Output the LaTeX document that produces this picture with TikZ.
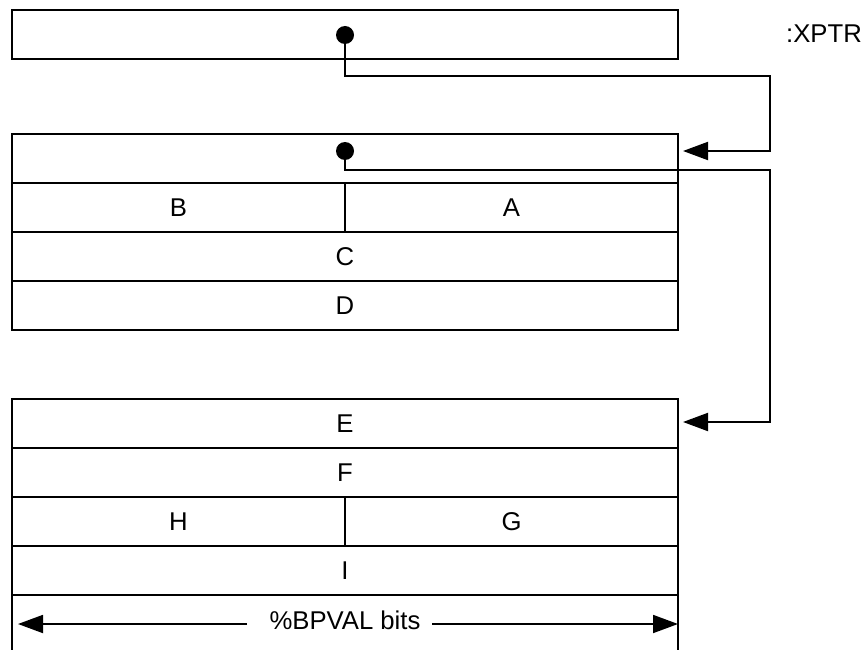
\documentclass[tikz,border=0pt]{standalone}
\usepackage{fontspec}
\setmainfont{Liberation Sans}
\usetikzlibrary{arrows.meta}
\pgfdeclarelayer{nodelayer}
\pgfdeclarelayer{edgelayer}
\pgfsetlayers{edgelayer,nodelayer,main}
\tikzstyle{full row}=[fill=none, draw=black, shape=rectangle, line width=2pt, minimum width=666pt, minimum height=49pt, inner sep=0pt, font=\fontsize{25.7}{30}\selectfont]
\tikzstyle{half row}=[full row, minimum width=333pt]
\tikzstyle{dot}=[fill=black, draw=none, shape=circle, minimum size=18pt, inner sep=0pt]
\tikzstyle{none}=[fill=none, draw=none, shape=rectangle, inner sep=0pt, font=\fontsize{25.7}{30}\selectfont]
\tikzstyle{link}=[draw=black, line width=2pt, -{Triangle[length=25pt, width=18pt]}]
\tikzstyle{span}=[draw=black, line width=1.8pt, -{Triangle[length=25pt, width=18pt]}]
\tikzstyle{side}=[draw=black, line width=2pt]

\begin{document}
\begin{tikzpicture}[x=1pt, y=-1pt]
	\useasboundingbox (0, 0) rectangle (864, 650);
	\begin{pgfonlayer}{nodelayer}
		\node [style=full row] (xptr) at (345, 35) {};
		\node [style=none] (xname) at (824, 34) {:XPTR};
		\node [style=full row] (r0) at (345, 158.5) {};
		\node [style=half row] (b) at (178.5, 207.5) {B};
		\node [style=half row] (a) at (511.5, 207.5) {A};
		\node [style=full row] (c) at (345, 256.5) {C};
		\node [style=full row] (d) at (345, 305.5) {D};
		\node [style=full row] (e) at (345, 423.5) {E};
		\node [style=full row] (f) at (345, 472.5) {F};
		\node [style=half row] (h) at (178.5, 521.5) {H};
		\node [style=half row] (g) at (511.5, 521.5) {G};
		\node [style=full row] (i) at (345, 570.5) {I};
		\node [style=none] (bits) at (345, 620) {\%BPVAL bits};
		\node [style=dot] (d0) at (345, 35) {};
		\node [style=dot] (d1) at (345, 151) {};
		\coordinate (t0) at (770, 76);
		\coordinate (a0) at (683, 151);
		\coordinate (t1) at (770, 170);
		\coordinate (a1) at (683, 422);
		\coordinate (bl) at (247, 624);
		\coordinate (bl0) at (18, 624);
		\coordinate (br) at (432, 624);
		\coordinate (br0) at (678, 624);
		\coordinate (sl) at (12, 595);
		\coordinate (sl0) at (12, 652);
		\coordinate (sr) at (678, 595);
		\coordinate (sr0) at (678, 652);
	\end{pgfonlayer}
	\begin{pgfonlayer}{edgelayer}
		\draw [style=link] (d0.center) |- (t0) |- (a0);
		\draw [style=link] (d1.center) |- (t1) |- (a1);
		\draw [style=span] (bl) to (bl0);
		\draw [style=span] (br) to (br0);
		\draw [style=side] (sl) to (sl0);
		\draw [style=side] (sr) to (sr0);
	\end{pgfonlayer}
\end{tikzpicture}
\end{document}
